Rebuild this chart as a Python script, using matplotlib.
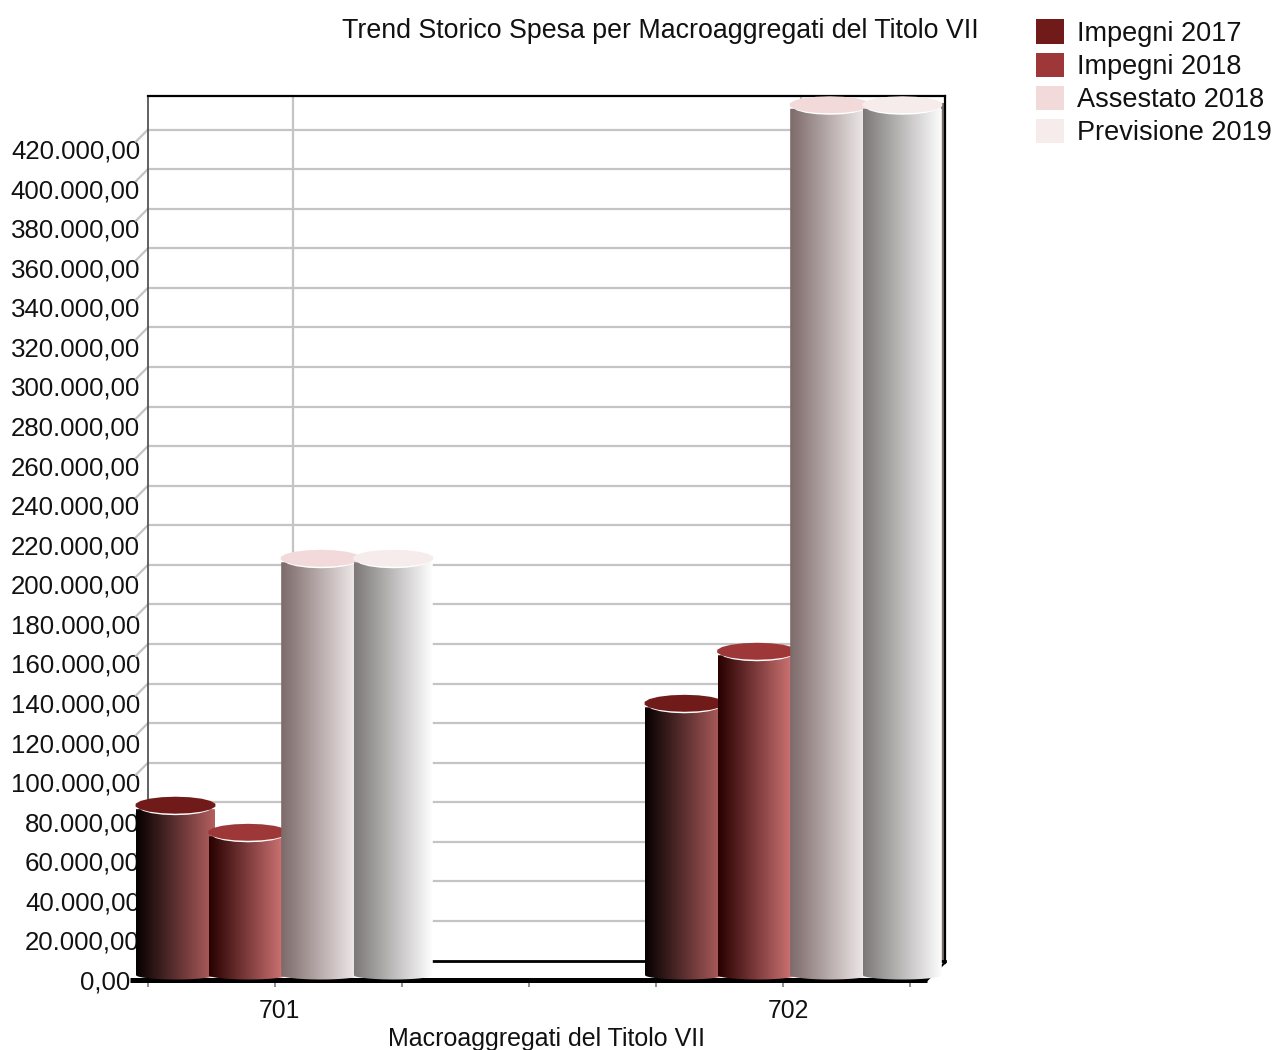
# Trend storico spesa - pseudo 3D cylinders
import numpy as np
import matplotlib
matplotlib.use("Agg")
import matplotlib.pyplot as plt
from matplotlib.colors import LinearSegmentedColormap
from matplotlib.patches import Patch, Polygon

plt.rcParams['font.family'] = ['Liberation Sans', 'DejaVu Sans']

# Data
categories = ["701", "702"]
series_names = ["Impegni 2017", "Impegni 2018", "Assestato 2018", "Previsione 2019"]
impegni_2017 = [81400, 132900]
impegni_2018 = [67700, 159200]
assestato_2018 = [206200, 435400]
previsione_2019 = [206200, 435400]
y_ticks = list(range(0, 440000, 20000))
series_values = [impegni_2017, impegni_2018, assestato_2018, previsione_2019]

# Colours
cap_colors = ["#701A1A", "#9E3838", "#F2DADA", "#F6ECEC"]
side_left = ["#050000", "#280000", "#7D6969", "#7D7878"]
side_right = ["#B45F5F", "#D87A7A", "#F5F0F0", "#FFFFFF"]

# Figure: one axes is the front plane of the fake 3D box
W, H = 1278, 1050
fig = plt.figure(figsize=(W / 100, H / 100), dpi=100)
ax = fig.add_axes([130 / W, 1 - 980 / H, (927 - 130) / W, (980 - 115.5) / H])

px_x = 1 / 509          # category units per pixel
px_y = 420000 / 831     # value units per pixel
ax.set_xlim(-149 * px_x, 648 * px_x)
ax.set_ylim(0, 864.5 * px_y)
for s in ax.spines.values():
    s.set_visible(False)
ax.set_axisbelow(True)

# depth of the box
dx = 18 * px_x
dy = 19.5 * px_y
xl, xr = ax.get_xlim()
top = ax.get_ylim()[1]

grid_c = "#C4C4C4"

# back wall gridlines and the little diagonals on the left side
ax.hlines([v + dy for v in y_ticks[1:]], xl + dx, xr + dx, colors=grid_c, lw=1.6, zorder=1, clip_on=False)
for v in y_ticks[1:]:
    ax.plot([xl + dx, xl + dx - 12 * px_x], [v + dy, v + dy - 12 * px_y], color=grid_c, lw=1.6, zorder=1, clip_on=False)

minor_ticks = [-0.257 + 0.2495 * k for k in range(7)]
for t in [minor_ticks[1], minor_ticks[5]]:
    ax.plot([t + dx, t + dx], [dy, top + dy], color=grid_c, lw=1.6, zorder=1, clip_on=False)

# box outline
ax.plot([xl + dx, xl + dx], [dy, top + dy], color="#555555", lw=1.3, zorder=1.2, clip_on=False)
ax.plot([xl + dx, xr + dx], [top + dy, top + dy], color="black", lw=1.6, zorder=1.2, clip_on=False)
ax.plot([xr + dx, xr + dx], [top + dy, dy - 2 * px_y], color="black", lw=1.6, zorder=1.2, clip_on=False)
ax.plot([xr + dx - 3 * px_x] * 2, [top + dy - 8 * px_y, dy], color="#7A6E6E", lw=2.2, zorder=1.1, clip_on=False)
ax.plot([xr, xr + dx], [0, dy - 2 * px_y], color="black", lw=1.6, zorder=1.2, clip_on=False)
ax.plot([xl + dx, xr + dx], [dy, dy], color="black", lw=2, zorder=1.2, clip_on=False)
ax.plot([xl, xr], [0.5 * px_y, 0.5 * px_y], color="black", lw=3.6, zorder=1.5, clip_on=False, solid_capstyle="butt")


def ring(xc, yc, w, h, sides=18):
    # coarse ellipse, the original caps are visibly faceted
    t = np.linspace(0, 2 * np.pi, sides, endpoint=False) + 0.17
    return np.column_stack([xc + np.cos(t) * w / 2, yc + np.sin(t) * h / 2])


# cylinders
bar_w = 79 * px_x
bar_step = 72.6 * px_x
first_left = -143 * px_x
mid = dy / 2
theta = np.linspace(0, np.pi, 60)
zz = 2
for i, vals in enumerate(series_values):
    cmap = LinearSegmentedColormap.from_list("s%d" % i, [side_left[i], side_right[i]])
    for c, v in enumerate(vals):
        x0 = c + first_left + i * bar_step
        xc = x0 + bar_w / 2
        # side: flat top, slightly rounded bottom
        arc_x = xc - np.cos(theta) * bar_w / 2
        arc_y = 5 * px_y - np.sin(theta) * 4.5 * px_y
        pts = list(zip(arc_x, arc_y)) + [(x0 + bar_w, v + mid), (x0, v + mid)]
        clip = Polygon(pts, closed=True, fc="none", ec="none", zorder=zz, clip_on=False)
        ax.add_patch(clip)
        im = ax.imshow(np.linspace(0, 1, 256).reshape(1, -1), cmap=cmap, aspect="auto",
                       extent=[x0, x0 + bar_w, 0, v + mid], interpolation="bilinear", zorder=zz)
        im.set_clip_box(fig.bbox)
        im.set_clip_path(clip)
        # white rim then cap
        ax.add_patch(Polygon(ring(xc, v + mid + 2.5 * px_y, bar_w - 4 * px_x, 17 * px_y), fc="white", ec="none",
                             zorder=zz + 0.1, clip_on=False))
        ax.add_patch(Polygon(ring(xc, v + mid + 4 * px_y, bar_w + 2 * px_x, 17 * px_y), fc=cap_colors[i], ec="none",
                             zorder=zz + 0.2, clip_on=False))
    zz += 1

ax.set_xlim(xl, xr)
ax.set_ylim(0, top)

# axes text
ax.set_yticks(y_ticks)
ax.set_yticklabels([f"{v:,.2f}".replace(",", "X").replace(".", ",").replace("X", ".") for v in y_ticks],
                   fontsize=18.6, color="#111111")
ax.tick_params(axis="y", length=0, pad=-7.2)
ax.yaxis.get_major_ticks()[0].set_pad(0)

ax.set_xticks([0, 1])
ax.set_xticklabels(categories, fontsize=17.8, color="#111111")
ax.tick_params(axis="x", which="major", length=0, pad=14)
ax.set_xticks(minor_ticks, minor=True)
ax.tick_params(axis="x", which="minor", length=5, width=1.3, color="#888888", direction="out")

fig.text(660.5 / W, 1 - 30.5 / H, "Trend Storico Spesa per Macroaggregati del Titolo VII", fontsize=19.3,
         ha="center", va="center", color="#111111")
fig.text(547 / W, 1 - 1039 / H, "Macroaggregati del Titolo VII", fontsize=18, ha="center", va="center", color="#111111")

# legend
handles = [Patch(fc=c, ec="none") for c in cap_colors]
fig.legend(handles, series_names, loc="upper left", bbox_to_anchor=(1036 / W, 1 - 19.5 / H), frameon=False,
           fontsize=19.5, handlelength=1.03, handleheight=1.03, handletextpad=0.5, labelspacing=0.2,
           borderpad=0, borderaxespad=0, labelcolor="#111111")

fig.savefig("out.png", dpi=100)
